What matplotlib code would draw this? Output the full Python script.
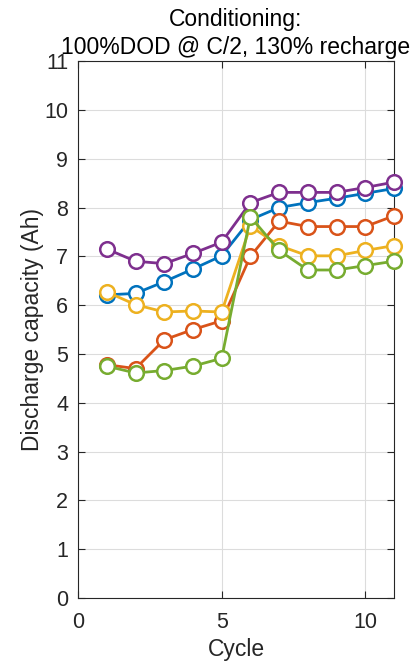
import matplotlib
matplotlib.use("Agg")
import matplotlib.pyplot as plt

cycles = [1, 2, 3, 4, 5, 6, 7, 8, 9, 10, 11]
blue = [6.21, 6.24, 6.48, 6.74, 7.01, 7.75, 8.0, 8.1, 8.19, 8.29, 8.39]
orange = [4.78, 4.70, 5.29, 5.50, 5.68, 7.0, 7.72, 7.61, 7.61, 7.61, 7.83]
yellow = [6.27, 6.01, 5.86, 5.88, 5.86, 7.62, 7.22, 7.01, 7.01, 7.12, 7.22]
purple = [7.15, 6.90, 6.85, 7.06, 7.29, 8.10, 8.31, 8.31, 8.31, 8.41, 8.52]
green = [4.75, 4.61, 4.66, 4.75, 4.91, 7.81, 7.12, 6.72, 6.72, 6.81, 6.90]

series = [blue, orange, yellow, purple, green]
colors = ["#0072BD", "#D95319", "#EDB120", "#7E2F8E", "#77AC30"]

plt.rcParams['font.family'] = ['Liberation Sans', 'DejaVu Sans']

fig = plt.figure(figsize=(4.13, 6.64), dpi=100)
ax = fig.add_axes([0.189, 0.0994, 0.765, 0.8086])

for vals, c in zip(series, colors):
    ax.plot(cycles, vals, '-o', color=c, lw=2, markersize=10.5,
            markerfacecolor='white', markeredgecolor=c, markeredgewidth=1.8,
            clip_on=False, zorder=3)

ax.set_xlim(0, 11)
ax.set_ylim(0, 11)
ax.set_xticks([0, 5, 10])
ax.set_yticks(range(0, 12))
ax.grid(True, color='#dcdcdc', lw=0.8)
ax.set_axisbelow(True)
ax.tick_params(direction='in', top=True, right=True, labelsize=15.5,
               colors='#262626', length=5, width=0.8)
ax.tick_params(axis='x', pad=10)
ax.tick_params(axis='y', pad=7)
for s in ax.spines.values():
    s.set_color('#262626')
    s.set_linewidth(0.8)
ax.set_xlabel('Cycle', fontsize=16.5, color='#262626', labelpad=4)
ax.set_ylabel('Discharge capacity (Ah)', fontsize=16.5, color='#262626', labelpad=0)
ax.set_title('Conditioning:\n100%DOD @ C/2, 130% recharge', fontsize=16.5,
             color='black', pad=5, linespacing=1.3)

fig.savefig('out.png', dpi=100)
